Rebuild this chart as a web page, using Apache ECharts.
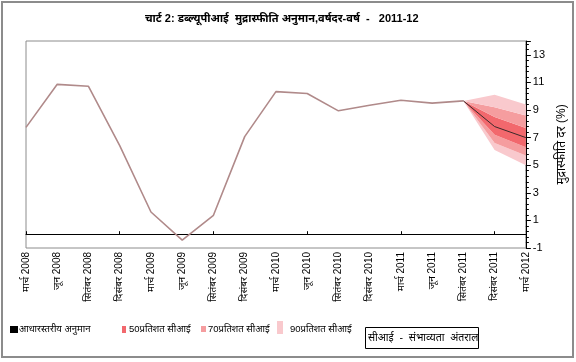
<!DOCTYPE html>
<html>
<head>
<meta charset="utf-8">
<script src="https://cdn.jsdelivr.net/npm/echarts@6/dist/echarts.min.js"></script>
<style>
html,body{margin:0;padding:0;background:#fff;}
#c{width:576px;height:362px;}
</style>
</head>
<body>
<div id="c"></div>
<script>
// Categories (quarterly)
var categories = ['मार्च 2008','जून 2008','सितंबर 2008','दिसंबर 2008','मार्च 2009','जून 2009','सितंबर 2009','दिसंबर 2009','मार्च 2010','जून 2010','सितंबर 2010','दिसंबर 2010','मार्च 2011','जून 2011','सितंबर 2011','दिसंबर 2011','मार्च 2012'];
// Actual WPI inflation (%)
var actual = [7.74, 10.86, 10.72, 6.42, 1.61, -0.43, 1.37, 7.07, 10.33, 10.2, 8.94, 9.35, 9.71, 9.5, 9.66, null, null];
// Baseline projection
var baseline = [null, null, null, null, null, null, null, null, null, null, null, null, null, null, 9.66, 7.8, 7.0];
// Fan bounds
var lo90 = [null, null, null, null, null, null, null, null, null, null, null, null, null, null, 9.66, 6.1, 5.0];
var lo70 = [null, null, null, null, null, null, null, null, null, null, null, null, null, null, 9.66, 6.6, 5.7];
var lo50 = [null, null, null, null, null, null, null, null, null, null, null, null, null, null, 9.66, 7.2, 6.3];
var hi50 = [null, null, null, null, null, null, null, null, null, null, null, null, null, null, 9.66, 8.5, 7.7];
var hi70 = [null, null, null, null, null, null, null, null, null, null, null, null, null, null, 9.66, 9.2, 8.6];
var hi90 = [null, null, null, null, null, null, null, null, null, null, null, null, null, null, 9.66, 10.1, 9.4];
// Y axis ticks
var yMin = -1, yMax = 14, yStep = 2;

var FONT = '"Liberation Sans", Arial, "Noto Sans", sans-serif';
var c90 = '#f9c9cd', c70 = '#f59d9f', c50 = '#f2686d';

function diff(a, b) {
  return a.map(function (v, i) { return (v == null || b[i] == null) ? '-' : +(v - b[i]).toFixed(3); });
}
function dash(a) { return a.map(function (v) { return v == null ? '-' : v; }); }

function band(name, data, color) {
  return {
    name: name, type: 'line', stack: 'fan', data: data, symbol: 'none',
    lineStyle: { width: 0 }, areaStyle: color ? { color: color, opacity: 1 } : { opacity: 0 },
    silent: true, z: 1
  };
}

var chart = echarts.init(document.getElementById('c'), null, { renderer: 'canvas' });
chart.setOption({
  animation: false,
  backgroundColor: '#fff',
  textStyle: { fontFamily: FONT },
  grid: { left: 26, right: 49, top: 41, bottom: 114, show: true, borderColor: '#8c8c8c', borderWidth: 1, containLabel: false },
  title: {
    text: 'चार्ट 2: डब्ल्यूपीआई  मुद्रास्फीति अनुमान,वर्षदर-वर्ष  -   2011-12',
    left: 140, top: 8,
    textStyle: { fontSize: 11, fontWeight: 'bold', color: '#000', fontFamily: FONT }
  },
  xAxis: [{
    type: 'category', data: categories, boundaryGap: false, position: 'bottom',
    axisLine: { show: false, onZero: false }, axisTick: { show: false },
    axisLabel: { rotate: 90, fontSize: 10, color: '#000', margin: 4, interval: 0, fontFamily: FONT },
    splitLine: { show: false }
  }, {
    type: 'category', data: categories, boundaryGap: false, position: 'top',
    axisLine: { show: true, onZero: true, lineStyle: { color: '#000', width: 1 } },
    axisTick: { show: true, length: 3, lineStyle: { color: '#000' } },
    axisLabel: { show: false }, splitLine: { show: false }
  }],
  yAxis: {
    type: 'value', position: 'right', min: yMin, max: yMax, interval: yStep,
    name: 'मुद्रास्फीति दर (%)', nameLocation: 'middle', nameRotate: 90, nameGap: 28,
    nameTextStyle: { fontSize: 12, color: '#000', fontFamily: FONT },
    axisLine: { show: true, lineStyle: { color: '#000' } },
    axisTick: { show: true, length: 5, lineStyle: { color: '#000' } },
    minorTick: { show: true, splitNumber: 5, length: 3, lineStyle: { color: '#000' } },
    axisLabel: { fontSize: 11, color: '#000', margin: 7, fontFamily: FONT,
      formatter: function (v) { return v >= yMax ? '' : String(v); } },
    splitLine: { show: false }
  },
  series: [
    band('base', dash(lo90), null),
    band('90l', diff(lo70, lo90), c90),
    band('70l', diff(lo50, lo70), c70),
    band('50', diff(hi50, lo50), c50),
    band('70h', diff(hi70, hi50), c70),
    band('90h', diff(hi90, hi70), c90),
    {
      name: 'actual', type: 'line', data: dash(actual), symbol: 'none', z: 3,
      lineStyle: { color: '#b08a8a', width: 1.6 }
    },
    {
      name: 'baseline', type: 'line', data: dash(baseline), symbol: 'none', z: 4,
      lineStyle: { color: '#3a2a2a', width: 1 }
    }
  ],
  graphic: [
    { type: 'rect', shape: { x: 2, y: 2, width: 571, height: 355 }, style: { fill: 'none', stroke: '#8c8c8c', lineWidth: 2 }, z: 100 },
    { type: 'rect', shape: { x: 10, y: 326, width: 8, height: 7 }, style: { fill: '#000' } },
    { type: 'text', x: 19, y: 329.5, style: { text: 'आधारस्तरीय अनुमान', fill: '#000', verticalAlign: 'middle', font: '9.5px ' + FONT } },
    { type: 'rect', shape: { x: 122, y: 326, width: 4, height: 7 }, style: { fill: c50 } },
    { type: 'text', x: 129, y: 329.5, style: { text: '50प्रतिशत सीआई', fill: '#000', verticalAlign: 'middle', font: '9.5px ' + FONT } },
    { type: 'rect', shape: { x: 201, y: 326, width: 5, height: 6 }, style: { fill: c70 } },
    { type: 'text', x: 208, y: 329.5, style: { text: '70प्रतिशत सीआई', fill: '#000', verticalAlign: 'middle', font: '9.5px ' + FONT } },
    { type: 'rect', shape: { x: 277, y: 321, width: 6, height: 13 }, style: { fill: c90 } },
    { type: 'text', x: 290, y: 329.5, style: { text: '90प्रतिशत सीआई', fill: '#000', verticalAlign: 'middle', font: '9.5px ' + FONT } },
    { type: 'rect', shape: { x: 365.5, y: 327.5, width: 113, height: 21 }, style: { fill: '#fff', stroke: '#000', lineWidth: 1 } },
    { type: 'text', x: 368, y: 338, style: { text: 'सीआई  -  संभाव्यता  अंतराल', fill: '#000', verticalAlign: 'middle', font: '10.5px ' + FONT } }
  ]
});
</script>
</body>
</html>
